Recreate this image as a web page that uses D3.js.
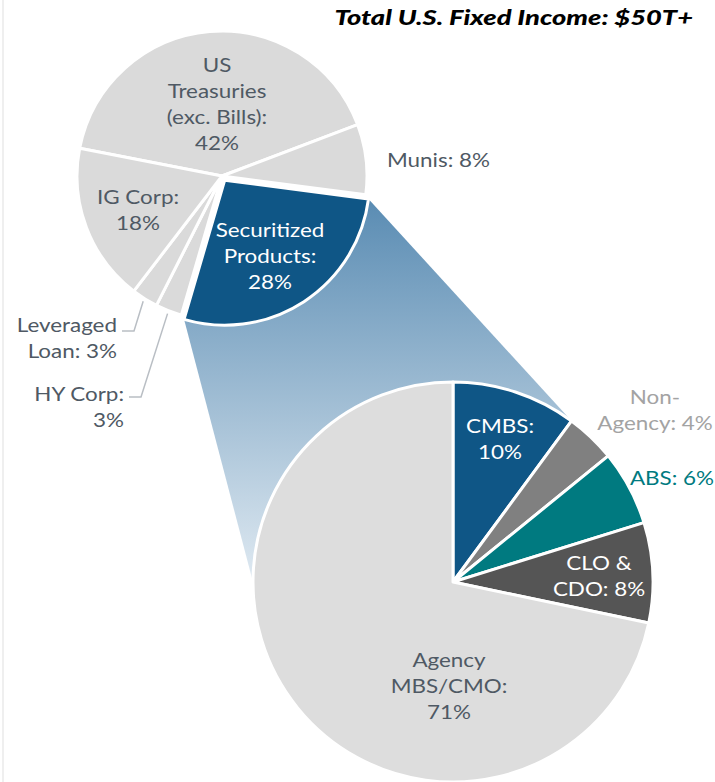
<!DOCTYPE html>
<html lang="en">
<head>
<meta charset="utf-8">
<title>Total U.S. Fixed Income</title>
<script src="https://cdn.jsdelivr.net/npm/d3@7"></script>
<style>
  body { margin: 0; background: #fff; }
  text { font-family: Lato, "Open Sans", sans-serif; font-size: 19px; }
  .title { font-weight: 900; font-style: italic; font-size: 21px; fill: #000; }
</style>
</head>
<body>
<script>
// data
var topCategories = ["US Treasuries (exc. Bills)", "Munis", "Securitized Products", "HY Corp", "Leveraged Loan", "IG Corp"];
var topValues = [42, 8, 28, 3, 3, 18];
var topLabels = [["US", "Treasuries", "(exc. Bills):", "42%"], ["Munis: 8%"], ["Securitized", "Products:", "28%"],
                 ["HY Corp:", "3%"], ["Leveraged", "Loan: 3%"], ["IG Corp:", "18%"]];

var subCategories = ["CMBS", "Non-Agency", "ABS", "CLO & CDO", "Agency MBS/CMO"];
var subValues = [10, 4, 6, 8, 71];
var subLabels = [["CMBS:", "10%"], ["Non-", "Agency: 4%"], ["ABS: 6%"], ["CLO &", "CDO: 8%"], ["Agency", "MBS/CMO:", "71%"]];

var title = "Total U.S. Fixed Income: $50T+";

// layout
var w = 715, h = 782;
var topC = [222, 176], topR = 145, explode = 5;
var subC = [453, 582], subR = 200;
var deg = Math.PI / 180;
var stretch = 1.18; // labels font is wider than Lato

var topColors = ["#dadada", "#dadada", "#0f5686", "#dadada", "#dadada", "#dadada"];
var subColors = ["#0f5686", "#808080", "#007a80", "#555555", "#dddddd"];

var topPos = [
  {x: 217, y: 72, anchor: "middle", fill: "#4f5964"},
  {x: 387, y: 167, anchor: "start", fill: "#4f5964"},
  {x: 270, y: 237, anchor: "middle", fill: "#ffffff"},
  {x: 124, y: 401, anchor: "end", fill: "#4f5964", elbow: [141, 397]},
  {x: 117, y: 332, anchor: "end", fill: "#4f5964", elbow: [134, 331]},
  {x: 138, y: 204, anchor: "middle", fill: "#4f5964"}
];
var subPos = [
  {x: 500, y: 433, anchor: "middle", fill: "#ffffff"},
  {x: 655, y: 404, anchor: "middle", fill: "#a3a3a3"},
  {x: 672, y: 485, anchor: "middle", fill: "#007a80"},
  {x: 599, y: 570, anchor: "middle", fill: "#ffffff"},
  {x: 449, y: 667, anchor: "middle", fill: "#4f5964"}
];

var svg = d3.select("body").append("svg")
  .attr("width", w)
  .attr("height", h);

// faint left border
svg.append("line")
  .attr("x1", 3).attr("x2", 3)
  .attr("y1", 0).attr("y2", h)
  .attr("stroke", "#efefef")
  .attr("stroke-width", 2);

var topPie = d3.pie().sort(null).startAngle(-79 * deg).endAngle(281 * deg);
var subPie = d3.pie().sort(null).startAngle(0).endAngle(2 * Math.PI);
var topArcs = topPie(topValues);
var subArcs = subPie(subValues);

var topArc = d3.arc().innerRadius(0).outerRadius(topR);
var subArc = d3.arc().innerRadius(0).outerRadius(subR);

function polar(c, r, a) {
  return [c[0] + r * Math.sin(a), c[1] - r * Math.cos(a)];
}

// offset of the exploded slice
var sec = topArcs[2];
var secMid = (sec.startAngle + sec.endAngle) / 2;
var secOff = polar([0, 0], explode, secMid);
var secC = [topC[0] + secOff[0], topC[1] + secOff[1]];

// connector from securitized slice to breakdown pie
var grad = svg.append("defs").append("linearGradient")
  .attr("id", "conn")
  .attr("gradientUnits", "userSpaceOnUse")
  .attr("x1", 0).attr("x2", 0)
  .attr("y1", 200).attr("y2", 585);
grad.append("stop").attr("offset", 0).attr("stop-color", "#5a8cb3");
grad.append("stop").attr("offset", 1).attr("stop-color", "#e0eaf2");

var connPts = [
  polar(secC, topR, sec.startAngle),
  polar(subC, subR, subArcs[0].endAngle),
  polar(subC, subR, 270 * deg),
  polar(secC, topR, sec.endAngle)
];
svg.append("polygon")
  .attr("points", connPts.map(function(p) { return p.join(","); }).join(" "))
  .attr("fill", "url(#conn)");

// top pie
svg.append("g")
  .selectAll("path")
  .data(topArcs)
  .enter()
  .append("path")
  .attr("transform", function(d, i) {
    var c = i === 2 ? secC : topC;
    return "translate(" + c[0] + "," + c[1] + ")";
  })
  .attr("d", topArc)
  .attr("fill", function(d, i) { return topColors[i]; })
  .attr("stroke", "#fff")
  .attr("stroke-width", 3)
  .attr("stroke-linejoin", "round");

// bottom pie
svg.append("g")
  .attr("transform", "translate(" + subC[0] + "," + subC[1] + ")")
  .selectAll("path")
  .data(subArcs)
  .enter()
  .append("path")
  .attr("d", subArc)
  .attr("fill", function(d, i) { return subColors[i]; })
  .attr("stroke", "#fff")
  .attr("stroke-width", 3)
  .attr("stroke-linejoin", "round");

// leader lines for small slices
[3, 4].forEach(function(i) {
  var a = topArcs[i];
  var p = polar(topC, topR + 3, (a.startAngle + a.endAngle) / 2);
  var e = topPos[i].elbow;
  svg.append("polyline")
    .attr("points", [[e[0] - 12, e[1]], e, p].map(function(q) { return q.join(","); }).join(" "))
    .attr("fill", "none")
    .attr("stroke", "#b9bec4")
    .attr("stroke-width", 1.5);
});

function drawLabels(labels, pos) {
  labels.forEach(function(lines, i) {
    var t = svg.append("text")
      .attr("transform", "translate(" + pos[i].x + "," + pos[i].y + ") scale(" + stretch + ",1)")
      .attr("text-anchor", pos[i].anchor)
      .attr("fill", pos[i].fill);
    lines.forEach(function(s, j) {
      t.append("tspan")
        .attr("x", 0)
        .attr("y", j * 26)
        .text(s);
    });
  });
}
drawLabels(topLabels, topPos);
drawLabels(subLabels, subPos);

svg.append("text")
  .attr("class", "title")
  .attr("transform", "translate(693,25) scale(1.3,1)")
  .attr("text-anchor", "end")
  .text(title);
</script>
</body>
</html>
